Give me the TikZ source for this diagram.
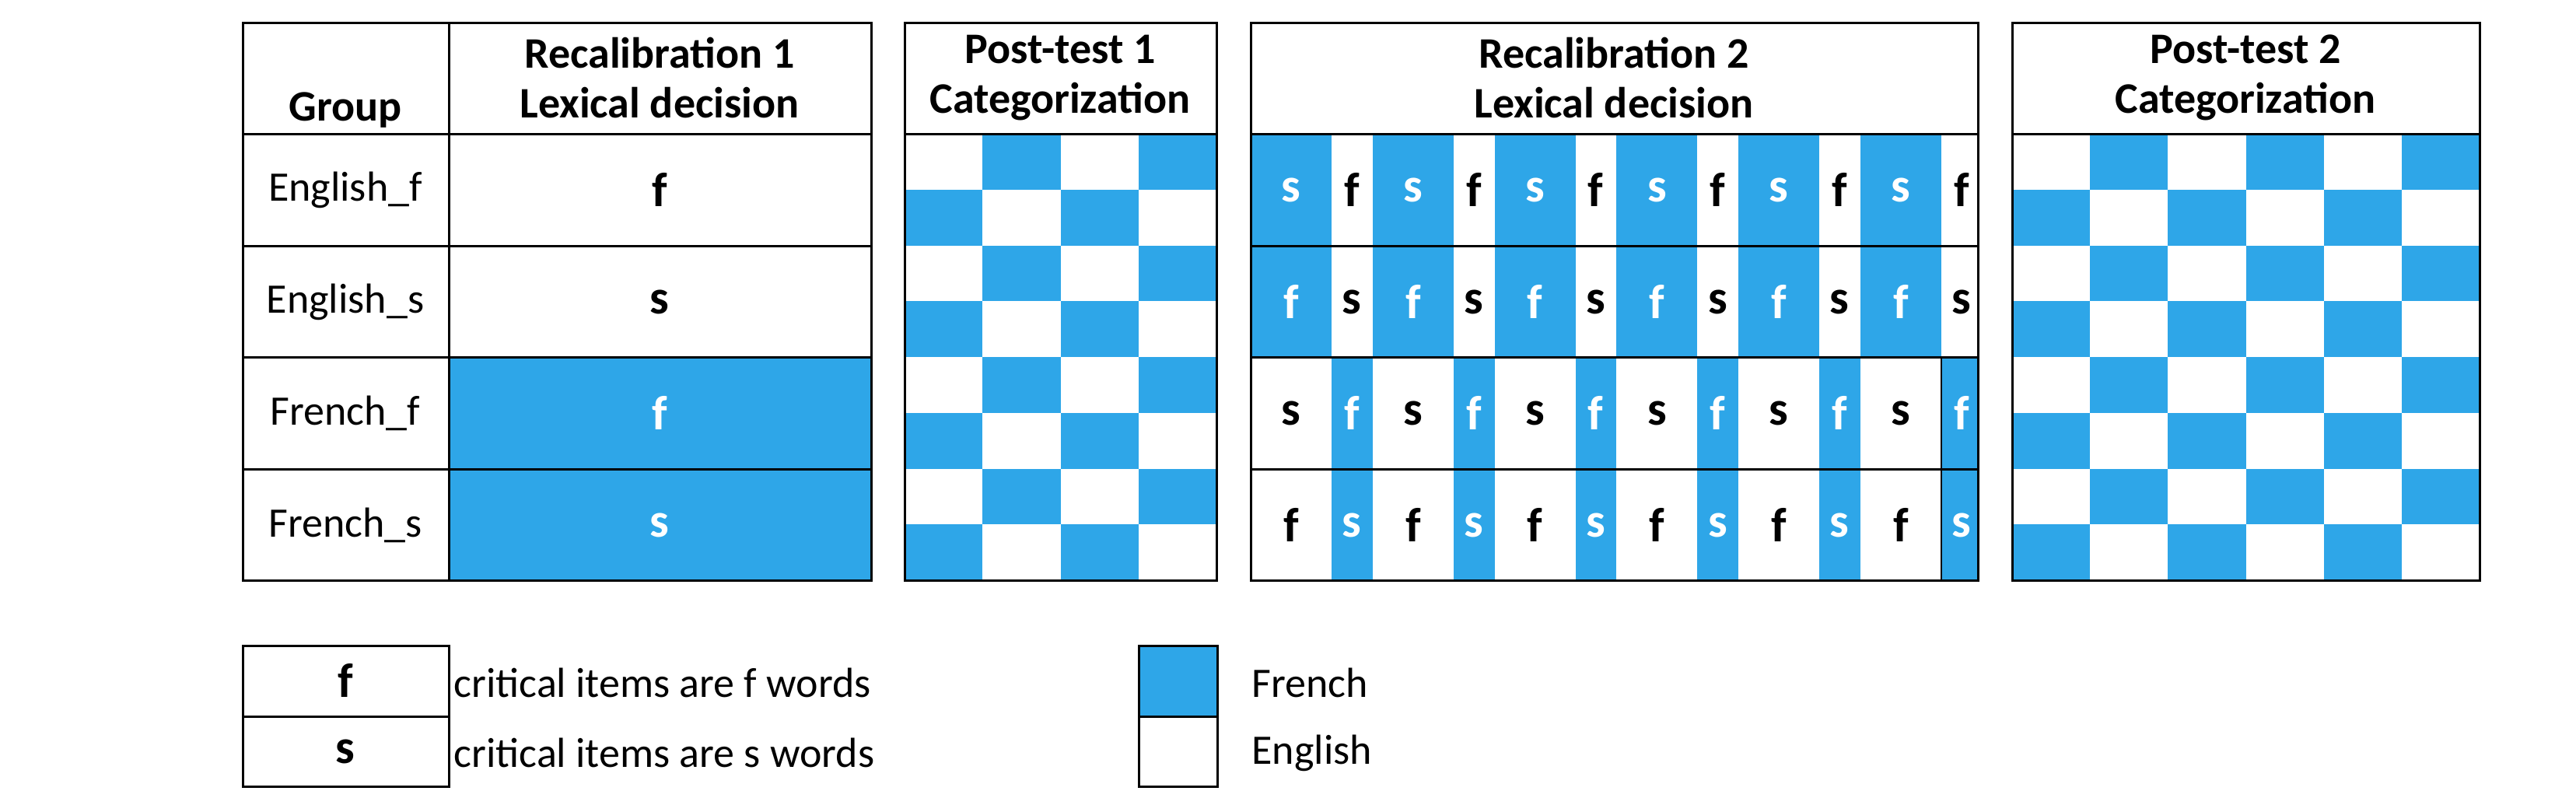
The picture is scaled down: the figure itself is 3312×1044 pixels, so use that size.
\documentclass[tikz,border=0pt]{standalone}
\usepackage{fontspec}
\setmainfont{Carlito}
\definecolor{fr}{RGB}{46,166,232}
\begin{document}
\begin{tikzpicture}[x=1pt,y=-1pt,
  grid/.style={draw=black,line width=3pt},
  bl/.style={fill=fr},
  hd/.style={font=\fontsize{56}{68}\selectfont\bfseries,align=center},
  lb/.style={font=\fontsize{54}{60}\selectfont},
  ltr/.style={font=\fontsize{62}{70}\selectfont\bfseries},
  lw/.style={ltr,text=white}]
\useasboundingbox (0,0) rectangle (3312,1044);
% ---------- Table 1
\fill[fr] (577,459) rectangle (1120,746);
\draw[grid] (312,29) rectangle (1120,746);
\draw[grid] (577,29) -- (577,746);
\foreach \y in {172,316,459,603} \draw[grid] (312,\y) -- (1120,\y);
\node[hd] (g) at (444,142) {Group};
\node[hd] (r1) at (848,100) {Recalibration 1\\[-4pt]Lexical decision};
\node[lb] (g1) at (444,244) {English\_f};
\node[lb] (g2) at (444,388) {English\_s};
\node[lb] (g3) at (444,531) {French\_f};
\node[lb] (g4) at (444,675) {French\_s};
\node[ltr] (l1) at (848,244) {f};
\node[ltr] (l2) at (848,388) {s};
\node[lw] (l3) at (848,531) {f};
\node[lw] (l4) at (848,675) {s};
% ---------- Post-test 1
\foreach \i in {0,...,3}{
  \foreach \j in {0,...,7}{
    \pgfmathparse{int(mod(\i+\j,2))}
    \ifnum\pgfmathresult=1
      \fill[fr] ({1163+\i*100.25},{172+\j*71.75}) rectangle ({1163+(\i+1)*100.25},{172+(\j+1)*71.75});
    \fi}}
\draw[grid] (1163,29) rectangle (1564,746);
\draw[grid] (1163,172) -- (1564,172);
\node[hd] (p1) at (1363,100) {Post-test 1\\[-4pt]Categorization};
% ---------- Recalibration 2
\def\P{156.8}
\fill[fr] (1608,172) rectangle (2543,459);
\foreach \k in {0,...,5}{
  \fill[white] ({1608+\k*\P+104},172) rectangle ({1608+(\k+1)*\P},459);
  \fill[fr] ({1608+\k*\P+104},459) rectangle ({min(1608+(\k+1)*\P,2543)},746);
  \node[lw] at ({1608+\k*\P+52},244) {s};
  \node[ltr] at ({1608+\k*\P+130},244) {f};
  \node[lw] at ({1608+\k*\P+52},388) {f};
  \node[ltr] at ({1608+\k*\P+130},388) {s};
  \node[ltr] at ({1608+\k*\P+52},531) {s};
  \node[lw] at ({1608+\k*\P+130},531) {f};
  \node[ltr] at ({1608+\k*\P+52},675) {f};
  \node[lw] at ({1608+\k*\P+130},675) {s};
}
\draw[grid] (1608,29) rectangle (2543,746);
\foreach \y in {172,316,459,603} \draw[grid] (1608,\y) -- (2543,\y);
\draw[black,line width=2pt] (2496,459) -- (2496,746);
\node[hd] (r2) at (2075,100) {Recalibration 2\\[-4pt]Lexical decision};
% ---------- Post-test 2
\foreach \i in {0,...,5}{
  \foreach \j in {0,...,7}{
    \pgfmathparse{int(mod(\i+\j,2))}
    \ifnum\pgfmathresult=1
      \fill[fr] ({2587+\i*100.17},{172+\j*71.75}) rectangle ({2587+(\i+1)*100.17},{172+(\j+1)*71.75});
    \fi}}
\draw[grid] (2587,29) rectangle (3188,746);
\draw[grid] (2587,172) -- (3188,172);
\node[hd] (p2) at (2887,100) {Post-test 2\\[-4pt]Categorization};
% ---------- Legend
\draw[grid] (312,830) rectangle (577,1011);
\draw[grid] (312,921) -- (577,921);
\node[ltr] (lf) at (444,875) {f};
\node[ltr] (ls) at (444,966) {s};
\node[lb,anchor=west] (tf) at (580,878) {critical items are f words};
\node[lb,anchor=west] (ts) at (580,968) {critical items are s words};
\fill[fr] (1464,830) rectangle (1565,921);
\draw[grid] (1464,830) rectangle (1565,1011);
\draw[grid] (1464,921) -- (1565,921);
\node[lb,anchor=west] (tfr) at (1606,878) {French};
\node[lb,anchor=west] (ten) at (1606,968) {English};
\end{tikzpicture}
\end{document}
